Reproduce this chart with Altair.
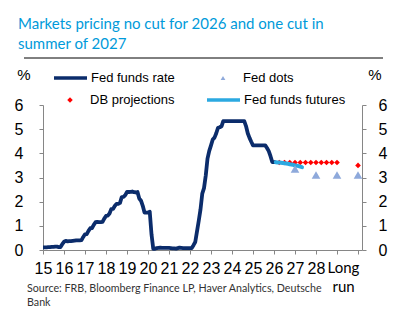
import altair as alt
import pandas as pd

# ---------------- data ----------------
title_lines = ["Markets pricing no cut for 2026 and one cut in", "summer of 2027"]
source_text = "Source: FRB, Bloomberg Finance LP, Haver Analytics, Deutsche\nBank"
legend_labels = ["Fed funds rate", "Fed dots", "DB projections", "Fed funds futures"]

# x axis categories (tick positions in years) and their labels
tick_years = [2015, 2016, 2017, 2018, 2019, 2020, 2021, 2022, 2023, 2024,
              2025, 2026, 2027, 2028, 2029, 2030]
tick_labels = ["15", "16", "17", "18", "19", "20", "21", "22", "23", "24",
               "25", "26", "27", "28", "Long\nrun", ""]
y_ticks = [0, 1, 2, 3, 4, 5, 6]

# Fed funds rate, monthly from Jan 2015
ffr_start = 2015
ffr_values = [
    0.11, 0.11, 0.11, 0.12, 0.12, 0.13, 0.13, 0.14, 0.14, 0.12, 0.12, 0.24,  # 2015
    0.34, 0.38, 0.36, 0.37, 0.37, 0.38, 0.39, 0.40, 0.40, 0.40, 0.41, 0.54,  # 2016
    0.65, 0.66, 0.79, 0.90, 0.91, 1.04, 1.15, 1.16, 1.15, 1.15, 1.16, 1.30,  # 2017
    1.41, 1.42, 1.51, 1.69, 1.70, 1.82, 1.91, 1.91, 1.95, 2.19, 2.20, 2.27,  # 2018
    2.40, 2.40, 2.41, 2.42, 2.39, 2.38, 2.40, 2.13, 2.04, 1.83, 1.55, 1.55,  # 2019
    1.55, 1.58, 0.65, 0.05, 0.05, 0.08, 0.09, 0.10, 0.09, 0.09, 0.09, 0.09,  # 2020
    0.09, 0.08, 0.07, 0.07, 0.06, 0.08, 0.10, 0.09, 0.08, 0.08, 0.08, 0.08,  # 2021
    0.08, 0.08, 0.20, 0.33, 0.77, 1.21, 1.68, 2.33, 2.56, 3.08, 3.78, 4.10,  # 2022
    4.33, 4.57, 4.65, 4.83, 5.06, 5.08, 5.12, 5.33, 5.33, 5.33, 5.33, 5.33,  # 2023
    5.33, 5.33, 5.33, 5.33, 5.33, 5.33, 5.33, 5.33, 5.13, 4.83, 4.64, 4.48,  # 2024
    4.33, 4.33, 4.33, 4.33, 4.33, 4.33, 4.33, 4.33, 4.22, 4.09, 3.88, 3.64,  # 2025
    3.64, 3.64,                                                              # 2026
]

# Fed funds futures, monthly from Feb 2026
fut_start = 2026 + 1 / 12
fut_values = [3.63, 3.62, 3.62, 3.61, 3.60, 3.59, 3.58, 3.57,
              3.55, 3.54, 3.52, 3.50, 3.49, 3.47, 3.45, 3.43]

# Fed dots (end of 2026, 2027, 2028, long run)
dots_x = [2027, 2028, 2029, 2030]
dots_values = [3.35, 3.10, 3.10, 3.10]

# DB projections (quarterly 2026-2028, long run)
db_x = [2026.25, 2026.5, 2026.75, 2027.0, 2027.25, 2027.5, 2027.75,
        2028.0, 2028.25, 2028.5, 2028.75, 2029.0, 2030]
db_values = [3.62, 3.62, 3.62, 3.62, 3.62, 3.62, 3.62,
             3.62, 3.62, 3.62, 3.62, 3.62, 3.5]

ffr_df = pd.DataFrame({"x": [ffr_start + i / 12 for i in range(len(ffr_values))],
                       "y": ffr_values})
fut_df = pd.DataFrame({"x": [fut_start + i / 12 for i in range(len(fut_values))],
                       "y": fut_values})
dots_df = pd.DataFrame({"x": dots_x, "y": dots_values})
db_df = pd.DataFrame({"x": db_x, "y": db_values})
one = pd.DataFrame({"k": [0]})

# ---------------- styles ----------------
NAVY = "#0B2C6B"
LIGHT_BLUE = "#2BA9E1"
RED = "#FF0000"
DOTS = "#8EA9DB"
GRAY = "#868686"
TITLE_BLUE = "#009ADA"
FONT = "Liberation Sans"

def label_expr():
    parts = []
    for yv, lab in zip(tick_years, tick_labels):
        if "\n" in lab:
            arr = ",".join("'" + s + "'" for s in lab.split("\n"))
            parts.append((yv, "[" + arr + "]"))
        else:
            parts.append((yv, "'" + lab + "'"))
    expr = "''"
    for yv, lab in reversed(parts):
        expr = f"datum.value == {yv} ? {lab} : ({expr})"
    return expr

multi_year = [yv for yv, lab in zip(tick_years, tick_labels) if "\n" in lab][0]
is_multi = f"datum.value == {multi_year}"

x_scale = alt.Scale(domain=[2015, 2030.19], nice=False, zero=False)
y_scale = alt.Scale(domain=[0, 6], nice=False, zero=True)

x_axis = alt.Axis(values=tick_years, labelExpr=label_expr(), title=None, grid=False,
                  tickSize=4, tickColor=GRAY, domainColor=GRAY,
                  labelFont={"condition": {"test": is_multi, "value": "Lato"}, "value": FONT},
                  labelFontSize={"condition": {"test": is_multi, "value": 15}, "value": 16},
                  labelOffset={"condition": {"test": is_multi, "value": 6}, "value": 0},
                  labelColor="black",
                  labelPadding=6, labelLineHeight=19, labelFlush=False,
                  labelOverlap=False, labelBound=False)
y_left = alt.Axis(values=y_ticks, orient="left", title=None, grid=False,
                  tickSize=4, tickColor=GRAY, domainColor=GRAY,
                  labelFont=FONT, labelFontSize=16, labelColor="black",
                  labelPadding=16)
y_right = alt.Axis(values=y_ticks, orient="right", title=None, grid=False,
                   tickSize=4, tickColor=GRAY, domainColor=GRAY,
                   labelFont=FONT, labelFontSize=16, labelColor="black",
                   labelPadding=12)

X = lambda axis: alt.X("x:Q", scale=x_scale, axis=axis)
Y = lambda axis: alt.Y("y:Q", scale=y_scale, axis=axis)

db_layer = alt.Chart(db_df).mark_point(shape="diamond", filled=True, size=32,
                                       color=RED, opacity=1).encode(x=X(None), y=Y(None))
ffr_layer = alt.Chart(ffr_df).mark_line(color=NAVY, strokeWidth=3.8,
                                        strokeJoin="round").encode(x=X(x_axis), y=Y(y_left))
fut_layer = alt.Chart(fut_df).mark_line(color=LIGHT_BLUE, strokeWidth=4,
                                        strokeCap="round").encode(x=X(None), y=Y(None))
dots_layer = alt.Chart(dots_df).mark_point(shape="triangle-up", filled=True, size=75,
                                           color=DOTS, opacity=1).encode(x=X(None), y=Y(y_right))

# ---------------- decorations ----------------
def text_layer(txt, x, y, size=13, align="left", font=FONT, color="black", baseline="middle", **kw):
    return alt.Chart(one).mark_text(text=txt, align=align, baseline=baseline, font=font,
                                    fontSize=size, color=color, **kw).encode(
        x=alt.value(x), y=alt.value(y))

rule_top = alt.Chart(one).mark_rule(color="black", strokeWidth=1).encode(
    x=alt.value(-19), x2=alt.value(340), y=alt.value(-47))

pct_left = text_layer("%", -19, -30, size=15, align="center")
pct_right = text_layer("%", 332, -30, size=15, align="center")

leg_line1 = alt.Chart(one).mark_rule(color=NAVY, strokeWidth=3.6).encode(
    x=alt.value(11), x2=alt.value(44), y=alt.value(-27))
leg_text1 = text_layer(legend_labels[0], 48, -27)
leg_tri = alt.Chart(one).mark_point(shape="triangle-up", filled=True, size=22, color=DOTS,
                                    opacity=1).encode(x=alt.value(180), y=alt.value(-27))
leg_text2 = text_layer(legend_labels[1], 200, -27)
leg_dia = alt.Chart(one).mark_point(shape="diamond", filled=True, size=30, color=RED,
                                    opacity=1).encode(x=alt.value(27), y=alt.value(-5))
leg_text3 = text_layer(legend_labels[2], 47, -5)
leg_line2 = alt.Chart(one).mark_rule(color=LIGHT_BLUE, strokeWidth=3.6).encode(
    x=alt.value(164), x2=alt.value(197), y=alt.value(-5))
leg_text4 = text_layer(legend_labels[3], 201, -5)

source = text_layer(source_text, -16, 179, size=10.7, font="Lato", color="#333333",
                    baseline="top", lineBreak="\n", lineHeight=14)

chart = alt.layer(
    db_layer, ffr_layer, fut_layer, dots_layer,
    rule_top, pct_left, pct_right,
    leg_line1, leg_text1, leg_tri, leg_text2, leg_dia, leg_text3, leg_line2, leg_text4,
    source,
).resolve_axis(x="independent", y="independent").properties(
    width=319, height=145,
    padding={"left": 43, "top": 105, "right": 31, "bottom": 71},
    autosize=alt.AutoSizeParams(type="none"),
    title=alt.TitleParams(text=title_lines, anchor="start", frame="group", dx=-25,
                          offset=6, font="Lato", fontSize=15, fontWeight="normal",
                          color=TITLE_BLUE, lineHeight=20),
).configure_view(stroke=None)

chart.save("out.html", embed_options={"renderer": "svg", "actions": False})
